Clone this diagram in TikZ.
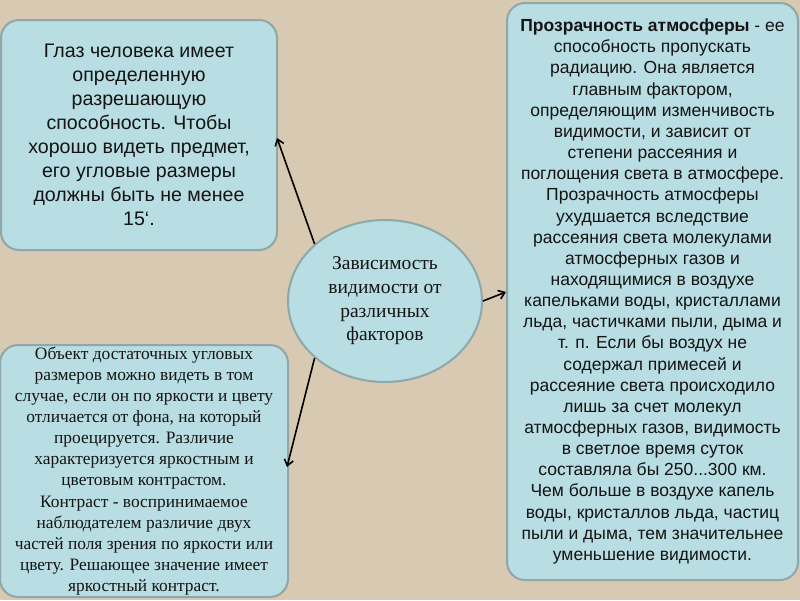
\documentclass[tikz,border=0pt]{standalone}
\usepackage{fontspec}
\setmainfont{Liberation Sans}
\newfontfamily\serifrm{Liberation Serif}
\usetikzlibrary{arrows.meta,shapes.geometric}
\definecolor{bgbeige}{HTML}{D8CAB2}
\definecolor{boxfill}{HTML}{B8DDE2}
\definecolor{boxline}{HTML}{8FA7A8}
\definecolor{txt}{HTML}{141414}
\tikzset{
  infobox/.style={draw=boxline, line width=2pt, fill=boxfill, rounded corners=18pt,
    inner sep=0pt, align=center, text=txt},
  hub/.style={draw=boxline, line width=2pt, fill=boxfill, ellipse, inner sep=0pt,
    align=center, text=txt},
  conn/.style={line width=1.6pt, -{Straight Barb[length=6pt,width=9pt]}}
}
\begin{document}
\begin{tikzpicture}[x=1pt,y=-1pt]
\fill[bgbeige] (0,0) rectangle (800,600);
\useasboundingbox (0,0) rectangle (800,600);

\node[infobox, minimum width=276pt, minimum height=230pt,
  font=\fontsize{19.6}{24}\selectfont] (eye) at (139,135)
  {Глаз человека имеет\\ определенную\\ разрешающую\\ способность. Чтобы\\ хорошо видеть предмет,\\ его угловые размеры\\ должны быть не менее\\ 15‘.};

\node[infobox, minimum width=288pt, minimum height=252pt,
  font=\serifrm\fontsize{17.4}{21.1}\selectfont] (obj) at (144,471)
  {Объект достаточных угловых\\ размеров можно видеть в том\\ случае, если он по яркости и цвету\\ отличается от фона, на который\\ проецируется. Различие\\ характеризуется яркостным и\\ цветовым контрастом.\\ Контраст - воспринимаемое\\ наблюдателем различие двух\\ частей поля зрения по яркости или\\ цвету. Решающее значение имеет\\ яркостный контраст.};

\node[infobox, minimum width=291pt, minimum height=577pt,
  font=\fontsize{17.5}{21.15}\selectfont] (trans) at (652.5,291.5)
  {\textbf{Прозрачность атмосферы} - ее\\ способность пропускать\\ радиацию. Она является\\ главным фактором,\\ определяющим изменчивость\\ видимости, и зависит от\\ степени рассеяния и\\ поглощения света в атмосфере.\\ Прозрачность атмосферы\\ ухудшается вследствие\\ рассеяния света молекулами\\ атмосферных газов и\\ находящимися в воздухе\\ капельками воды, кристаллами\\ льда, частичками пыли, дыма и\\ т. п. Если бы воздух не\\ содержал примесей и\\ рассеяние света происходило\\ лишь за счет молекул\\ атмосферных газов, видимость\\ в светлое время суток\\ составляла бы 250...300 км.\\ Чем больше в воздухе капель\\ воды, кристаллов льда, частиц\\ пыли и дыма, тем значительнее\\ уменьшение видимости.};

\node[hub, minimum width=194pt, minimum height=162pt,
  font=\serifrm\fontsize{19.5}{23.7}\selectfont] (hub) at (385,301)
  {Зависимость\\ видимости от\\ различных\\ факторов};

\coordinate (t1) at (277,138);
\coordinate (t2) at (287,467);
\coordinate (t3) at (506,292);
\draw[conn] (hub.141) -- (t1);
\draw[conn] (hub.219) -- (t2);
\draw[conn] (hub.east) -- (t3);
\end{tikzpicture}
\end{document}
